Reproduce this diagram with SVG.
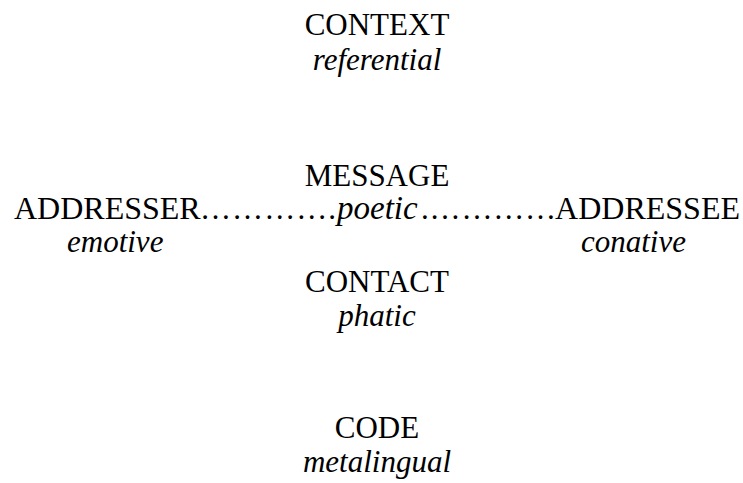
<svg xmlns="http://www.w3.org/2000/svg" width="743" height="483" viewBox="0 0 743 483">
  <style>
    text { font-family: "Liberation Serif", "Times New Roman", serif; font-size: 31px; fill: #000; }
    .fn { font-style: italic; }
    .c { text-anchor: middle; }
    .row { font-size: 32px; }
  </style>
  <rect width="743" height="483" fill="#fff"/>

  <!-- six factors of communication, each with its function -->
  <g id="context">
    <text class="c" x="377" y="35">CONTEXT</text>
    <text class="c fn" x="377" y="70">referential</text>
  </g>

  <g id="message">
    <text class="c" x="377" y="186">MESSAGE</text>
  </g>

  <!-- dotted line joining addresser and addressee through the message -->
  <g id="connectors">
    <text x="200" y="219" textLength="136" lengthAdjust="spacing">………….</text>
    <text class="fn" x="337" y="219" style="font-size:33px">poetic</text>
    <text x="421" y="219" textLength="135" lengthAdjust="spacing">.…………</text>
  </g>

  <g id="addresser">
    <text class="row" x="14" y="219">ADDRESSER</text>
    <text class="fn" x="67" y="252">emotive</text>
  </g>

  <g id="addressee">
    <text class="row" x="740" y="219" text-anchor="end">ADDRESSEE</text>
    <text class="fn" x="581" y="252">conative</text>
  </g>

  <g id="contact">
    <text class="c" x="377" y="292">CONTACT</text>
    <text class="c fn" x="377" y="326">phatic</text>
  </g>

  <g id="code">
    <text class="c" x="377" y="438">CODE</text>
    <text class="c fn" x="377" y="472">metalingual</text>
  </g>
</svg>
